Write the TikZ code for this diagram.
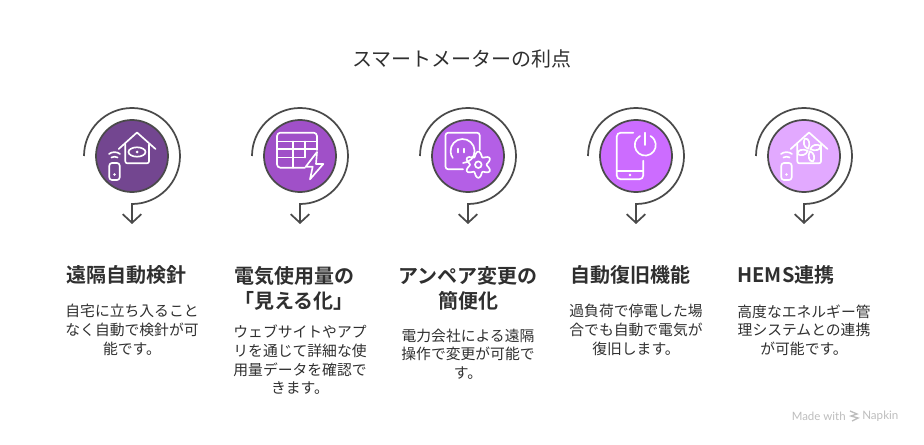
\documentclass[tikz,border=0pt]{standalone}
\usepackage{fontspec}
\setmainfont{Noto Sans CJK JP}[BoldFont={Noto Sans CJK JP Bold}]
\newfontfamily\markfont{Lato}
\usetikzlibrary{arrows.meta}
\definecolor{arcgray}{HTML}{4A4A4A}
\definecolor{textgray}{HTML}{2F2F2F}
\definecolor{markgray}{HTML}{BDBDBD}
\definecolor{stepa}{HTML}{734690}
\definecolor{stepb}{HTML}{A050C8}
\definecolor{stepc}{HTML}{B45FE6}
\definecolor{stepd}{HTML}{CC6CFF}
\definecolor{stepe}{HTML}{E2A9FF}
\tikzset{
	disc/.style={draw=arcgray,line width=1.3pt,circle,minimum size=54pt,inner sep=0pt},
	sweep/.style={draw=arcgray,line width=1.3pt,-{Straight Barb[length=6.5pt,width=14pt,line width=1.3pt]}},
	glyph/.style={draw=white,line width=1.25pt,line join=round,line cap=round},
	headtext/.style={font=\fontsize{15pt}{18.75pt}\selectfont\bfseries,text=textgray,align=center},
	bodytext/.style={font=\fontsize{11.1pt}{14pt}\selectfont,text=textgray,align=center}
}
% phone with signal, and the house outline
\newcommand{\phonesignal}{
	\draw [glyph,rounded corners=2pt] (-22.7,7) rectangle (-12.3,24);
	\fill [white] (-17.5,18.5) circle (1.4);
	\draw [glyph] (-23,-2) .. controls (-20,-4.5) and (-15,-4.5) .. (-12,-2);
	\draw [glyph] (-20.5,1.5) .. controls (-19,0.3) and (-16,0.3) .. (-14.5,1.5);
}
\newcommand{\houseshape}{
	\draw [glyph] (-13.3,-7) -- (5,-23.5) -- (23.5,-7);
	\draw [glyph,rounded corners=1.5pt] (-6.7,-11.5) -- (-6.7,7.3) -- (17,7.3) -- (17,-11.5);
}
\begin{document}
\begin{tikzpicture}[x=0.75pt,y=-0.75pt]
	\useasboundingbox (0,0) rectangle (924,445);
	\node (title) [font=\fontsize{15pt}{18pt}\selectfont,text=textgray] at (462,59) {スマートメーターの利点};
	% the five circles with their arrows
	\foreach \cx/\col/\id in {132/stepa/a,300/stepb/b,468/stepc/c,636/stepd/d,804/stepe/e}{
		\node (disc\id) [disc,fill=\col] at (\cx,156) {};
		\coordinate (start\id) at (\cx-48,156);
		\coordinate (tip\id) at (\cx,224);
		\draw [sweep] (start\id) arc [start angle=180,end angle=450,radius=48] -- (tip\id);
	}
	% house with eye
	\begin{scope}[shift={(132,156)}]
		\phonesignal
		\houseshape
		\draw [glyph] (5,-4) ellipse (8.5 and 4.7);
		\fill [white] (5,-4) circle (1.5);
	\end{scope}
	% table with bolt
	\begin{scope}[shift={(300,156)}]
		\draw [glyph,rounded corners=2.5pt] (5,11.7) -- (-23,11.7) -- (-23,-23.3) -- (17,-23.3) -- (17,-6);
		\draw [glyph] (-23,-14.5) -- (17,-14.5);
		\draw [glyph] (-23,-7) -- (17,-7);
		\draw [glyph] (-23,1.5) -- (4,1.5);
		\draw [glyph] (-6.7,-14.5) -- (-6.7,11.7);
		\draw [glyph] (5,-14.5) -- (5,1.5);
		\draw [glyph] (17,-4) -- (5.7,10.7) -- (12.7,10.7) -- (10,23.3) -- (23.3,8) -- (16,8) -- cycle;
	\end{scope}
	% socket with gear
	\begin{scope}[shift={(468,156)}]
		\draw [glyph,rounded corners=2pt] (-5,13.3) -- (-22.5,13.3) -- (-22.5,-23.3) -- (11.7,-23.3) -- (11.7,-6);
		\draw [glyph] (-5,7) arc [start angle=88,end angle=-215,radius=12];
		\draw [glyph] (-10,-7.3) -- (-10,-3.5);
		\draw [glyph] (-4,-7.3) -- (-4,-3.5);
		\draw [glyph] plot [smooth cycle,domain=0:355,samples=72] ({10.3+(10.7-2.4*cos(6*\x))*cos(\x)},{8.7+(10.7-2.4*cos(6*\x))*sin(\x)});
		\draw [glyph] (10.3,8.7) circle (3.3);
	\end{scope}
	% phone with power sign
	\begin{scope}[shift={(636,156)}]
		\draw [glyph,rounded corners=3pt] (-2.7,-23.3) -- (-19.3,-23.3) -- (-19.3,23.3) -- (7.3,23.3) -- (7.3,4.7);
		\draw [glyph] (-19.3,15) -- (7.3,15);
		\fill [white] (-6,19) circle (1.4);
		\draw [glyph] (4,-20) arc [start angle=-120,end angle=-420,radius=10.5];
		\draw [glyph] (9,-23.3) -- (9,-11);
	\end{scope}
	% house with fan
	\begin{scope}[shift={(804,156)}]
		\phonesignal
		\houseshape
		\foreach \ang in {-10,80,170,260}{
			\begin{scope}[shift={(5,-6)},rotate=\ang]
				\draw [glyph] (1,-1) .. controls (2,-6) and (7,-7.5) .. (10.5,-6) .. controls (12,-2) and (6,0.5) .. (1,-1);
			\end{scope}
		}
	\end{scope}
	% headings
	\node (heada) [headtext] at (126,275) {遠隔自動検針};
	\node (headb) [headtext] at (294,288) {電気使用量の\\「見える化」};
	\node (headc) [headtext] at (468,288) {アンペア変更の\\簡便化};
	\node (headd) [headtext] at (630,275) {自動復旧機能};
	\node (heade) [headtext] at (786,275) {HEMS連携};
	% texts
	\node (bodya) [bodytext] at (132,330) {自宅に立ち入ること\\なく自動で検針が可\\能です。};
	\node (bodyb) [bodytext] at (300,360) {ウェブサイトやアプ\\リを通じて詳細な使\\用量データを確認で\\きます。};
	\node (bodyc) [bodytext] at (468,354) {電力会社による遠隔\\操作で変更が可能で\\す。};
	\node (bodyd) [bodytext] at (636,330) {過負荷で停電した場\\合でも自動で電気が\\復旧します。};
	\node (bodye) [bodytext] at (804,330) {高度なエネルギー管\\理システムとの連携\\が可能です。};
	% watermark
	\node (madewith) [font=\markfont\fontsize{8.6pt}{10pt}\selectfont,text=markgray,anchor=west,inner sep=0pt] at (791.5,416) {Made with};
	\node (napkin) [font=\markfont\fontsize{8.7pt}{10pt}\selectfont,text=markgray,anchor=west,inner sep=0pt] at (862,416) {Napkin};
	\draw [markgray,line width=1pt] (850,411) -- (857,414) -- (851,416) -- (858,418) -- (852,421);
\end{tikzpicture}
\end{document}
